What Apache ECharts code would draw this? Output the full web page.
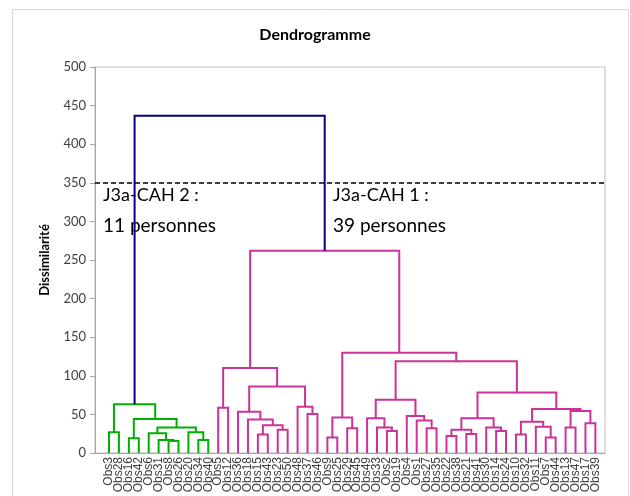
<!DOCTYPE html>
<html>
<head>
<meta charset="utf-8">
<script src="https://cdn.jsdelivr.net/npm/echarts@6/dist/echarts.min.js"></script>
<style>
  html, body { margin: 0; padding: 0; background: #fff; }
  #chart { width: 630px; height: 496px; }
</style>
</head>
<body>
<div id="chart"></div>
<script>
// feuilles du dendrogramme, dans l'ordre d'affichage
const leaves = ['Obs3','Obs28','Obs16','Obs42','Obs6','Obs31','Obs8','Obs26','Obs20','Obs34','Obs40',
  'Obs5','Obs12','Obs36','Obs18','Obs15','Obs43','Obs23','Obs50','Obs48','Obs37','Obs46',
  'Obs9','Obs25','Obs29','Obs45','Obs49','Obs33','Obs2','Obs19','Obs4','Obs1','Obs27','Obs35',
  'Obs22','Obs38','Obs21','Obs41','Obs30','Obs14','Obs24','Obs10','Obs32','Obs11','Obs7','Obs44',
  'Obs13','Obs47','Obs17','Obs39'];

// fusions : noeud gauche, noeud droit, niveau (Kn = résultat de la fusion n)
const mergeA = ['Obs8','Obs31','Obs6','Obs34','Obs20','K2','Obs16','K6','Obs3','K8',
  'Obs15','Obs23','K10','Obs18','Obs36','Obs37','Obs48','K14','Obs5','K18',
  'Obs9','Obs29','K20','Obs2','Obs33','Obs49','Obs27','Obs1','Obs4','K25',
  'Obs22','Obs21','K30','Obs14','Obs30','K32','Obs7','Obs11','Obs10','K38',
  'Obs13','Obs17','K40','K39','K35','K29','K22','K19','K9'];
const mergeB = ['Obs26','K0','K1','Obs40','K3','K4','Obs42','K5','Obs28','K7',
  'Obs43','Obs50','K11','K12','K13','Obs46','K15','K16','Obs12','K17',
  'Obs25','Obs45','K21','Obs19','K23','K24','Obs35','K26','K27','K28',
  'Obs38','Obs41','K31','Obs24','K33','K34','Obs44','K36','Obs32','K37',
  'Obs47','Obs39','K41','K42','K43','K44','K45','K46','K47'];
const mergeHeight = [15.5,17,25.5,17,27,33,19,44,27,63,
  24,30,36,43.5,53.5,50.5,60,86,58.5,110,
  20,32,46,28.5,33,45,32,42,48,69,
  22,24.5,30,28.5,33,45,20,34,24,40.5,
  33,38.5,54.5,57,78.5,119,130,262,437];

const cutLevel = 350;
const yTicks = [0,50,100,150,200,250,300,350,400,450,500];

// couleurs : racine, classe de gauche (CAH 2), classe de droite (CAH 1)
const rootColor = '#000080';
const groupColors = ['#00b000','#cc3399'];

const pos = {};
leaves.forEach((n,i)=>{ pos[n] = {x:i, h:0}; });
const children = {};
mergeA.forEach((a,i)=>{
  const b = mergeB[i];
  pos['K'+i] = {x:(pos[a].x+pos[b].x)/2, h:mergeHeight[i]};
  children['K'+i] = [a,b];
});

// couleur de chaque fusion selon la branche de la racine
const rootId = 'K'+(mergeA.length-1);
const colorOf = {};
colorOf[rootId] = rootColor;
function paint(id, c){
  if(!children[id]) return;
  colorOf[id] = c;
  children[id].forEach(ch=>paint(ch,c));
}
children[rootId].forEach((ch,i)=>paint(ch, groupColors[i]));

const links = mergeA.map((a,i)=>{
  const b = mergeB[i], H = mergeHeight[i];
  return {
    coords: [[pos[a].x,pos[a].h],[pos[a].x,H],[pos[b].x,H],[pos[b].x,pos[b].h]],
    lineStyle: {color: colorOf['K'+i]}
  };
});

// valeurs vides aux deux bouts pour que toutes les feuilles gardent leur étiquette
const labelValues = [-1].concat(leaves.map((n,i)=>i), [49.5]);

const myChart = echarts.init(document.getElementById('chart'));
myChart.setOption({
  animation: false,
  title: {
    text: 'Dendrogramme',
    left: 'center',
    top: 22,
    textStyle: {fontFamily: 'Lato', fontSize: 16, fontWeight: 'bold', color: '#000'}
  },
  grid: {
    left: 95, right: 25, top: 67, bottom: 43,
    show: true, borderColor: '#bfbfbf', borderWidth: 1
  },
  xAxis: {
    type: 'value',
    min: -1.41,
    max: 49.97,
    splitLine: {show: false},
    axisLine: {show: true, onZero: false, lineStyle: {color: '#a6a6a6'}},
    axisTick: {show: false},
    axisLabel: {
      customValues: labelValues,
      formatter: v => (Number.isInteger(v) && leaves[v]) ? leaves[v] : '',
      hideOverlap: false,
      rotate: 90,
      margin: 4,
      fontFamily: 'Liberation Sans',
      fontSize: 12,
      color: '#404040'
    }
  },
  yAxis: {
    type: 'value',
    min: 0,
    max: 500,
    interval: 50,
    name: 'Dissimilarité',
    nameLocation: 'middle',
    nameGap: 44,
    nameTextStyle: {fontFamily: 'Lato', fontSize: 13, fontWeight: 'bold', color: '#000'},
    splitLine: {show: false},
    axisLine: {show: true, onZero: false, lineStyle: {color: '#a6a6a6'}},
    axisTick: {show: true, length: 5, lineStyle: {color: '#a6a6a6'}},
    axisLabel: {
      customValues: yTicks,
      fontFamily: 'Lato', fontSize: 13, color: '#404040', margin: 9
    }
  },
  series: [
    {
      type: 'lines',
      coordinateSystem: 'cartesian2d',
      polyline: true,
      lineStyle: {width: 2, opacity: 1},
      data: links
    },
    {
      type: 'line',
      data: [],
      markLine: {
        silent: true,
        symbol: 'none',
        label: {show: false},
        lineStyle: {color: '#000', type: [5,3], width: 1.5},
        data: [{yAxis: cutLevel}]
      }
    }
  ],
  graphic: [
    {type:'rect', left: 10, top: 7, shape:{width: 616, height: 500}, style:{fill:'none', stroke:'#d9d9d9', lineWidth:1}, silent:true},
    {type:'text', left: 103, top: 186, style:{text:'J3a-CAH 2 :', font:'18px Lato', fill:'#000'}},
    {type:'text', left: 103, top: 216, style:{text:'11 personnes', font:'19px Lato', fill:'#000'}},
    {type:'text', left: 333, top: 186, style:{text:'J3a-CAH 1 :', font:'18px Lato', fill:'#000'}},
    {type:'text', left: 333, top: 216, style:{text:'39 personnes', font:'19px Lato', fill:'#000'}}
  ]
});
</script>
</body>
</html>
